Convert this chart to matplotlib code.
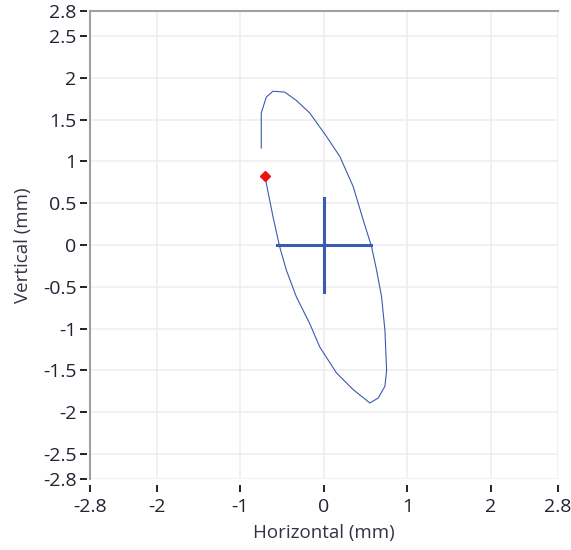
import matplotlib
matplotlib.use("Agg")
import matplotlib.pyplot as plt
import numpy as np

plt.rcParams['font.family'] = ['Open Sans', 'DejaVu Sans']

# orbit trace (mm), starting at the red marker
orbit_x = [-0.70, -0.69, -0.61, -0.53, -0.45, -0.33, -0.17, -0.05, 0.15, 0.35, 0.55,
           0.65, 0.73, 0.75, 0.73, 0.69, 0.63, 0.57, 0.47, 0.35, 0.19, 0.03, -0.17,
           -0.33, -0.47, -0.61, -0.69, -0.75, -0.75]
orbit_y = [0.82, 0.74, 0.34, -0.02, -0.30, -0.62, -0.94, -1.22, -1.53, -1.73, -1.89,
           -1.83, -1.69, -1.50, -1.02, -0.62, -0.30, -0.02, 0.30, 0.70, 1.06, 1.30, 1.58,
           1.73, 1.83, 1.84, 1.77, 1.58, 1.16]

start_x = [-0.70]
start_y = [0.82]

cross_center = (0.0, 0.0)
cross_half = 0.56

xticks = [-2.8, -2, -1, 0, 1, 2, 2.8]
yticks = [-2.8, -2.5, -2, -1.5, -1, -0.5, 0, 0.5, 1, 1.5, 2, 2.5, 2.8]
lim = 2.8

fig = plt.figure(figsize=(5.71, 5.5), dpi=100)
ax = fig.add_axes([0.1576, 0.129, 0.8194, 0.851])

ax.plot(orbit_x, orbit_y, color='#3b5bb0', lw=0.8, zorder=3)
cx, cy = cross_center
ax.plot([cx - cross_half, cx + cross_half], [cy, cy], color='#3b5bb0', lw=2.2, zorder=3)
ax.plot([cx, cx], [cy - cross_half, cy + cross_half], color='#3b5bb0', lw=2.2, zorder=3)
ax.plot(start_x, start_y, 'D', color='#ee1111', ms=5, mec='#ee1111', zorder=4)

ax.set_xlim(-lim, lim)
ax.set_ylim(-lim, lim)
ax.set_xticks(xticks)
ax.set_yticks(yticks)
ax.set_xticklabels([f'{v:g}' for v in xticks])
ax.set_yticklabels([f'{v:g}' for v in yticks])

ax.grid(True, color='#efefef', lw=1.2, zorder=0)
ax.set_axisbelow(True)
for g in [ax.get_xgridlines()[0], ax.get_xgridlines()[-1],
          ax.get_ygridlines()[0], ax.get_ygridlines()[-1]]:
    g.set_visible(False)

for s in ['right', 'bottom']:
    ax.spines[s].set_visible(False)
ax.spines['top'].set_color('#a0a0a0')
ax.spines['top'].set_linewidth(1.5)
ax.spines['left'].set_color('none')
ax.spines['left'].set_position(('outward', 2.2))
ax.spines['bottom'].set_position(('outward', 4.3))
ax.plot([0, 0], [0, 1], transform=ax.transAxes, color='#a0a0a0', lw=1.5,
        clip_on=False, zorder=5)

ax.tick_params(axis='both', colors='#222222', width=1.4, length=5,
               labelsize=14, labelcolor='#222233')
ax.tick_params(axis='y', pad=2.5)
ax.tick_params(axis='x', pad=4)

ax.set_xlabel('Horizontal (mm)', fontsize=13.5, color='#333344', labelpad=6)
ax.set_ylabel('Vertical (mm)', fontsize=13.5, color='#333344', labelpad=8)

fig.savefig('out.png', dpi=100)
